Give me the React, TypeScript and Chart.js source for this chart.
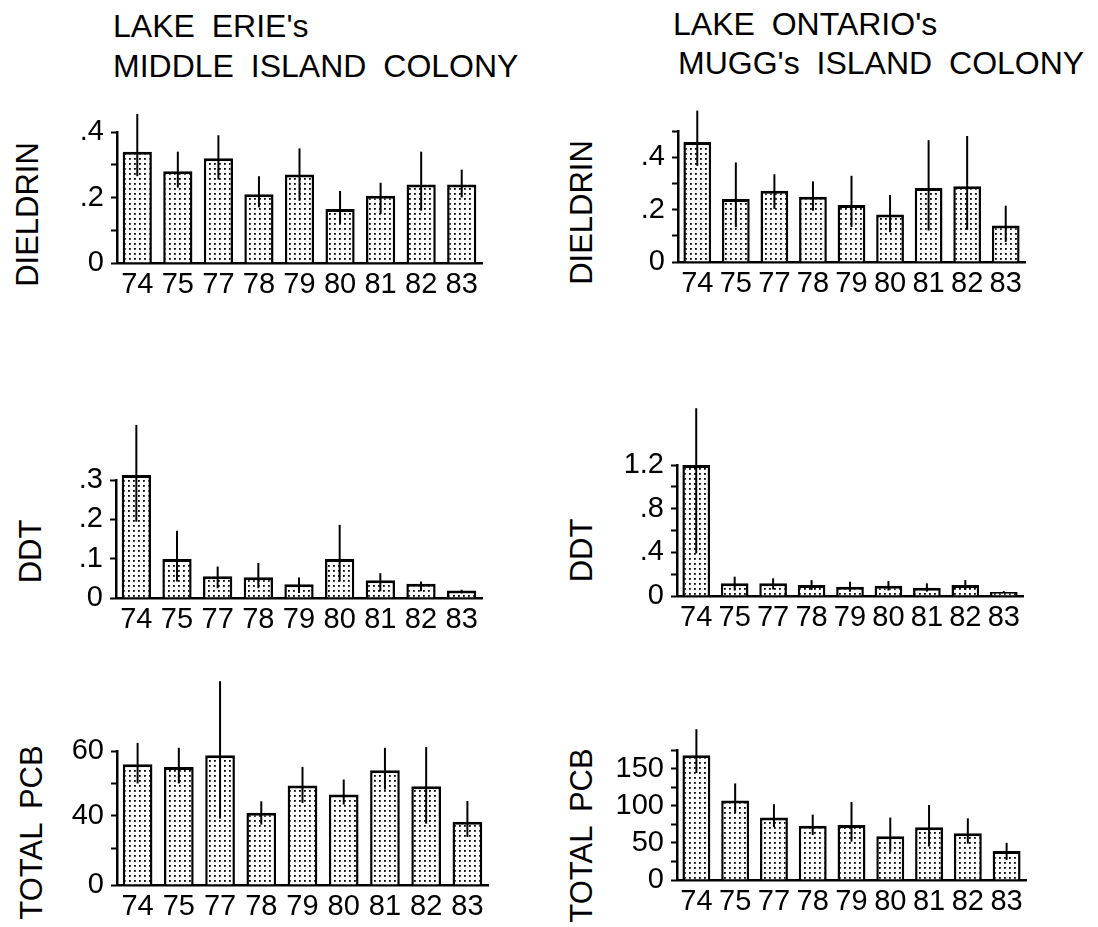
import React, { useEffect, useRef } from "react";
import { Chart, registerables } from "chart.js";

Chart.register(...registerables);

// ---------- data ----------
const years = ["74", "75", "77", "78", "79", "80", "81", "82", "83"];

// Lake Erie – Middle Island colony
const erieDieldrinMean = [0.34, 0.28, 0.32, 0.21, 0.27, 0.165, 0.205, 0.24, 0.24];
const erieDieldrinLow = [0.265, 0.23, 0.255, 0.17, 0.19, 0.12, 0.15, 0.16, 0.2];
const erieDieldrinHigh = [0.455, 0.34, 0.39, 0.265, 0.35, 0.22, 0.245, 0.34, 0.285];
const erieDieldrinTicks = [0, 0.1, 0.2, 0.3, 0.4];
const erieDieldrinTickLabels = ["0", "", ".2", "", ".4"];

const erieDdtMean = [0.313, 0.099, 0.055, 0.053, 0.035, 0.099, 0.045, 0.036, 0.019];
const erieDdtLow = [0.194, 0.042, 0.025, 0.025, 0.013, 0.042, 0.017, 0.017, 0.012];
const erieDdtHigh = [0.44, 0.171, 0.08, 0.089, 0.052, 0.186, 0.063, 0.042, 0.021];
const erieDdtTicks = [0, 0.1, 0.2, 0.3];
const erieDdtTickLabels = ["0", ".1", ".2", ".3"];

const eriePcbMean = [55.9, 55.1, 58.7, 41.0, 49.4, 46.6, 54.1, 49.1, 38.2];
const eriePcbLow = [50.0, 50.0, 39.2, 37.3, 44.0, 43.5, 48.1, 37.6, 33.5];
const eriePcbHigh = [62.5, 61.0, 81.5, 44.5, 55.1, 51.2, 61.0, 61.2, 44.6];
const eriePcbTicks = [18.7, 30, 40, 50, 60];
const eriePcbTickLabels = ["0", "", "40", "", "60"];

// Lake Ontario – Mugg's Island colony
const ontDieldrinMean = [0.458, 0.24, 0.272, 0.249, 0.218, 0.181, 0.282, 0.289, 0.139];
const ontDieldrinLow = [0.367, 0.133, 0.203, 0.196, 0.133, 0.114, 0.12, 0.123, 0.076];
const ontDieldrinHigh = [0.578, 0.38, 0.335, 0.308, 0.329, 0.256, 0.465, 0.481, 0.215];
const ontDieldrinTicks = [0, 0.1, 0.2, 0.3, 0.4, 0.5];
const ontDieldrinTickLabels = ["0", "", ".2", "", ".4", ""];

const ontDdtMean = [1.2, 0.116, 0.116, 0.1, 0.085, 0.095, 0.076, 0.1, 0.037];
const ontDdtLow = [0.39, 0.05, 0.06, 0.055, 0.04, 0.05, 0.04, 0.055, 0.03];
const ontDdtHigh = [1.72, 0.177, 0.162, 0.146, 0.13, 0.137, 0.116, 0.146, 0.045];
const ontDdtTicks = [0, 0.2, 0.4, 0.6, 0.8, 1.0, 1.2];
const ontDdtTickLabels = ["0", "", ".4", "", ".8", "", "1.2"];

const ontPcbMean = [168, 107, 84, 73, 74, 59, 71, 63, 39];
const ontPcbLow = [144, 90, 71, 60.5, 51.6, 38, 45, 49, 27];
const ontPcbHigh = [203, 130, 102, 88, 105, 84, 101, 83, 50];
const ontPcbTicks = [0, 25, 50, 75, 100, 125, 150, 175];
const ontPcbTickLabels = ["0", "", "50", "", "100", "", "150", ""];

// ---------- drawing ----------
const FONT = "'Liberation Sans', Arial, Helvetica, sans-serif";
const Y_AXIS_W = 75;
const X_AXIS_H = 44;
const PAD_R = 14;

const errorBarPlugin = {
  id: "errorBars",
  afterDatasetsDraw(chart: any, _args: any, opts: any) {
    const low: number[] = opts.low || [];
    const high: number[] = opts.high || [];
    const meta = chart.getDatasetMeta(0);
    const ys = chart.scales.y;
    const ctx = chart.ctx;
    ctx.save();
    ctx.strokeStyle = "#000";
    ctx.lineWidth = 2;
    meta.data.forEach((bar: any, i: number) => {
      ctx.beginPath();
      ctx.moveTo(bar.x, ys.getPixelForValue(low[i]));
      ctx.lineTo(bar.x, ys.getPixelForValue(high[i]));
      ctx.stroke();
    });
    ctx.restore();
  },
};

function makePattern(ctx: CanvasRenderingContext2D) {
  const c = document.createElement("canvas");
  c.width = 5;
  c.height = 5;
  const g = c.getContext("2d")!;
  g.fillStyle = "#fff";
  g.fillRect(0, 0, 5, 5);
  g.fillStyle = "#000";
  g.fillRect(2, 2, 1.8, 1.8);
  return ctx.createPattern(c, "repeat");
}

type PanelProps = {
  left: number;
  top: number;
  right: number;
  bottom: number;
  padTop: number;
  mean: number[];
  low: number[];
  high: number[];
  ticks: number[];
  tickLabels: string[];
};

function Panel(p: PanelProps) {
  const ref = useRef<HTMLCanvasElement>(null);
  const cLeft = p.left - Y_AXIS_W;
  const cTop = p.top - p.padTop;
  const width = p.right + PAD_R - cLeft;
  const height = p.bottom + X_AXIS_H - cTop;

  useEffect(() => {
    const canvas = ref.current!;
    const ctx = canvas.getContext("2d")!;
    const pattern = makePattern(ctx);
    const chart = new Chart(ctx, {
      type: "bar",
      data: {
        labels: years,
        datasets: [
          {
            data: p.mean,
            base: p.ticks[0],
            backgroundColor: pattern as any,
            borderColor: "#000",
            borderWidth: { top: 3, left: 2.5, right: 2.5, bottom: 0 } as any,
            barPercentage: 0.72,
            categoryPercentage: 1,
            clip: { left: 0, right: 0, bottom: 0, top: false } as any,
          } as any,
        ],
      },
      options: {
        responsive: false,
        animation: false,
        devicePixelRatio: 1,
        layout: { padding: { top: p.padTop, right: PAD_R, left: 0, bottom: 0 } },
        plugins: {
          legend: { display: false },
          tooltip: { enabled: false },
          errorBars: { low: p.low, high: p.high },
        } as any,
        scales: {
          x: {
            type: "category",
            offset: true,
            grid: { display: false, drawTicks: false },
            border: { display: true, color: "#000", width: 2.5 },
            ticks: {
              color: "#000",
              font: { family: FONT, size: 29 },
              padding: 5,
              autoSkip: false,
              maxRotation: 0,
            },
            afterFit: (s: any) => {
              s.height = X_AXIS_H;
            },
          },
          y: {
            type: "linear",
            min: p.ticks[0],
            max: p.ticks[p.ticks.length - 1],
            afterBuildTicks: (s: any) => {
              s.ticks = p.ticks.map((v) => ({ value: v }));
            },
            afterFit: (s: any) => {
              s.width = Y_AXIS_W;
            },
            ticks: {
              color: "#000",
              font: { family: FONT, size: 29 },
              padding: 7,
              autoSkip: false,
              callback: (_v: any, i: number) => p.tickLabels[i],
            },
            grid: {
              display: true,
              drawOnChartArea: false,
              drawTicks: true,
              tickLength: 6,
              tickWidth: 2,
              tickColor: "#000",
              color: "#000",
            },
            border: { display: true, color: "#000", width: 2.5 },
          },
        },
      },
      plugins: [errorBarPlugin as any],
    });
    return () => chart.destroy();
  }, []);

  return (
    <canvas
      ref={ref}
      width={width}
      height={height}
      style={{ position: "absolute", left: cLeft, top: cTop, width, height }}
    />
  );
}

function Text(props: { x: number; y: number; size: number; text: string; rotate?: boolean; wordSpacing?: number }) {
  if (props.rotate) {
    return (
      <div
        style={{
          position: "absolute",
          left: props.x - 150,
          top: props.y - props.size / 2,
          width: 300,
          height: props.size,
          lineHeight: props.size + "px",
          fontSize: props.size,
          fontFamily: FONT,
          textAlign: "center",
          whiteSpace: "pre",
          transform: "rotate(-90deg)",
          transformOrigin: "50% 50%",
          wordSpacing: props.wordSpacing || 0,
          color: "#000",
        }}
      >
        {props.text}
      </div>
    );
  }
  return (
    <div
      style={{
        position: "absolute",
        left: props.x,
        top: props.y,
        fontSize: props.size,
        lineHeight: "40px",
        fontFamily: FONT,
        whiteSpace: "pre",
        wordSpacing: props.wordSpacing || 0,
        color: "#000",
      }}
    >
      {props.text}
    </div>
  );
}

export default function App() {
  return (
    <div style={{ position: "absolute", left: 0, top: 0, width: 1098, height: 927, background: "#fff", overflow: "hidden" }}>
      <Text x={113} y={6} size={32} text="LAKE ERIE's" wordSpacing={8} />
      <Text x={113} y={46} size={32} text="MIDDLE ISLAND COLONY" wordSpacing={8} />
      <Text x={673} y={4} size={32} text="LAKE ONTARIO's" wordSpacing={8} />
      <Text x={678} y={43} size={32} text="MUGG's ISLAND COLONY" wordSpacing={8} />

      <Text rotate x={27} y={214} size={31} text="DIELDRIN" />
      <Text rotate x={30} y={551} size={31} text="DDT" />
      <Text rotate x={31} y={832} size={31} text="TOTAL PCB" wordSpacing={6} />
      <Text rotate x={581} y={212} size={31} text="DIELDRIN" />
      <Text rotate x={581} y={550} size={31} text="DDT" />
      <Text rotate x={581} y={835} size={31} text="TOTAL PCB" wordSpacing={6} />

      <Panel left={117} right={482} top={132} bottom={263} padTop={26}
        mean={erieDieldrinMean} low={erieDieldrinLow} high={erieDieldrinHigh}
        ticks={erieDieldrinTicks} tickLabels={erieDieldrinTickLabels} />
      <Panel left={678} right={1025} top={131} bottom={262} padTop={30}
        mean={ontDieldrinMean} low={ontDieldrinLow} high={ontDieldrinHigh}
        ticks={ontDieldrinTicks} tickLabels={ontDieldrinTickLabels} />
      <Panel left={116} right={482} top={480} bottom={598} padTop={62}
        mean={erieDdtMean} low={erieDdtLow} high={erieDdtHigh}
        ticks={erieDdtTicks} tickLabels={erieDdtTickLabels} />
      <Panel left={677} right={1023} top={465} bottom={596} padTop={64}
        mean={ontDdtMean} low={ontDdtLow} high={ontDdtHigh}
        ticks={ontDdtTicks} tickLabels={ontDdtTickLabels} />
      <Panel left={117} right={488} top={751} bottom={885} padTop={78}
        mean={eriePcbMean} low={eriePcbLow} high={eriePcbHigh}
        ticks={eriePcbTicks} tickLabels={eriePcbTickLabels} />
      <Panel left={677} right={1026} top={750} bottom={880} padTop={30}
        mean={ontPcbMean} low={ontPcbLow} high={ontPcbHigh}
        ticks={ontPcbTicks} tickLabels={ontPcbTickLabels} />
    </div>
  );
}
